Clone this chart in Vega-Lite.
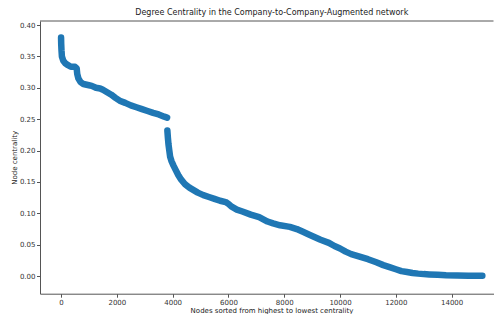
{
  "$schema": "https://vega.github.io/schema/vega-lite/v6.json",
  "width": 453.5,
  "height": 272.7,
  "autosize": {"type": "none"},
  "padding": {"left": 40, "top": 21, "right": 1.5, "bottom": 20.3},
  "background": "white",
  "title": {
    "text": "Degree Centrality in the Company-to-Company-Augmented network",
    "font": "DejaVu Sans",
    "fontSize": 8,
    "fontWeight": "normal",
    "color": "#222",
    "anchor": "middle",
    "dx": 5,
    "offset": 3.5
  },
  "config": {
    "view": {"stroke": null},
    "axis": {
      "labelFont": "DejaVu Sans",
      "titleFont": "DejaVu Sans",
      "labelFontSize": 7,
      "titleFontSize": 7,
      "titleFontWeight": "normal",
      "labelColor": "#333",
      "titleColor": "#222",
      "domainColor": "#555",
      "tickColor": "#555",
      "tickSize": 3.5,
      "grid": false
    }
  },
  "data": {
    "values": [
      {"node": 0, "centrality": 0.380, "segment": "A"},
      {"node": 5, "centrality": 0.370, "segment": "A"},
      {"node": 15, "centrality": 0.360, "segment": "A"},
      {"node": 30, "centrality": 0.350, "segment": "A"},
      {"node": 80, "centrality": 0.343, "segment": "A"},
      {"node": 150, "centrality": 0.339, "segment": "A"},
      {"node": 250, "centrality": 0.336, "segment": "A"},
      {"node": 350, "centrality": 0.3335, "segment": "A"},
      {"node": 500, "centrality": 0.3335, "segment": "A"},
      {"node": 560, "centrality": 0.331, "segment": "A"},
      {"node": 580, "centrality": 0.322, "segment": "A"},
      {"node": 620, "centrality": 0.315, "segment": "A"},
      {"node": 700, "centrality": 0.309, "segment": "A"},
      {"node": 800, "centrality": 0.306, "segment": "A"},
      {"node": 1000, "centrality": 0.304, "segment": "A"},
      {"node": 1100, "centrality": 0.303, "segment": "A"},
      {"node": 1250, "centrality": 0.300, "segment": "A"},
      {"node": 1400, "centrality": 0.299, "segment": "A"},
      {"node": 1500, "centrality": 0.297, "segment": "A"},
      {"node": 1650, "centrality": 0.293, "segment": "A"},
      {"node": 1800, "centrality": 0.289, "segment": "A"},
      {"node": 1950, "centrality": 0.284, "segment": "A"},
      {"node": 2100, "centrality": 0.2795, "segment": "A"},
      {"node": 2300, "centrality": 0.276, "segment": "A"},
      {"node": 2500, "centrality": 0.272, "segment": "A"},
      {"node": 2700, "centrality": 0.269, "segment": "A"},
      {"node": 2900, "centrality": 0.266, "segment": "A"},
      {"node": 3100, "centrality": 0.263, "segment": "A"},
      {"node": 3300, "centrality": 0.260, "segment": "A"},
      {"node": 3500, "centrality": 0.2575, "segment": "A"},
      {"node": 3700, "centrality": 0.254, "segment": "A"},
      {"node": 3800, "centrality": 0.2525, "segment": "A"},
      {"node": 3810, "centrality": 0.232, "segment": "B"},
      {"node": 3830, "centrality": 0.220, "segment": "B"},
      {"node": 3850, "centrality": 0.210, "segment": "B"},
      {"node": 3880, "centrality": 0.200, "segment": "B"},
      {"node": 3910, "centrality": 0.190, "segment": "B"},
      {"node": 3960, "centrality": 0.183, "segment": "B"},
      {"node": 4030, "centrality": 0.176, "segment": "B"},
      {"node": 4120, "centrality": 0.168, "segment": "B"},
      {"node": 4200, "centrality": 0.161, "segment": "B"},
      {"node": 4300, "centrality": 0.154, "segment": "B"},
      {"node": 4450, "centrality": 0.146, "segment": "B"},
      {"node": 4600, "centrality": 0.141, "segment": "B"},
      {"node": 4750, "centrality": 0.137, "segment": "B"},
      {"node": 4900, "centrality": 0.133, "segment": "B"},
      {"node": 5100, "centrality": 0.129, "segment": "B"},
      {"node": 5300, "centrality": 0.126, "segment": "B"},
      {"node": 5500, "centrality": 0.123, "segment": "B"},
      {"node": 5700, "centrality": 0.120, "segment": "B"},
      {"node": 5900, "centrality": 0.118, "segment": "B"},
      {"node": 6000, "centrality": 0.115, "segment": "B"},
      {"node": 6100, "centrality": 0.111, "segment": "B"},
      {"node": 6300, "centrality": 0.106, "segment": "B"},
      {"node": 6500, "centrality": 0.103, "segment": "B"},
      {"node": 6800, "centrality": 0.098, "segment": "B"},
      {"node": 7100, "centrality": 0.094, "segment": "B"},
      {"node": 7400, "centrality": 0.087, "segment": "B"},
      {"node": 7600, "centrality": 0.084, "segment": "B"},
      {"node": 7850, "centrality": 0.081, "segment": "B"},
      {"node": 8200, "centrality": 0.0785, "segment": "B"},
      {"node": 8450, "centrality": 0.075, "segment": "B"},
      {"node": 8650, "centrality": 0.071, "segment": "B"},
      {"node": 8900, "centrality": 0.066, "segment": "B"},
      {"node": 9100, "centrality": 0.062, "segment": "B"},
      {"node": 9300, "centrality": 0.058, "segment": "B"},
      {"node": 9600, "centrality": 0.053, "segment": "B"},
      {"node": 9800, "centrality": 0.048, "segment": "B"},
      {"node": 10000, "centrality": 0.044, "segment": "B"},
      {"node": 10200, "centrality": 0.039, "segment": "B"},
      {"node": 10400, "centrality": 0.035, "segment": "B"},
      {"node": 10700, "centrality": 0.031, "segment": "B"},
      {"node": 11000, "centrality": 0.027, "segment": "B"},
      {"node": 11300, "centrality": 0.022, "segment": "B"},
      {"node": 11550, "centrality": 0.0175, "segment": "B"},
      {"node": 11800, "centrality": 0.014, "segment": "B"},
      {"node": 12000, "centrality": 0.011, "segment": "B"},
      {"node": 12200, "centrality": 0.008, "segment": "B"},
      {"node": 12400, "centrality": 0.0065, "segment": "B"},
      {"node": 12600, "centrality": 0.005, "segment": "B"},
      {"node": 12800, "centrality": 0.004, "segment": "B"},
      {"node": 13000, "centrality": 0.0032, "segment": "B"},
      {"node": 13200, "centrality": 0.0027, "segment": "B"},
      {"node": 13500, "centrality": 0.002, "segment": "B"},
      {"node": 13800, "centrality": 0.0014, "segment": "B"},
      {"node": 14200, "centrality": 0.001, "segment": "B"},
      {"node": 14600, "centrality": 0.0006, "segment": "B"},
      {"node": 15100, "centrality": 0.0005, "segment": "B"}
    ]
  },
  "layer": [
    {
      "mark": {"type": "line", "color": "#1f77b4", "strokeWidth": 6.5, "strokeCap": "round", "strokeJoin": "round"},
      "encoding": {
        "x": {
          "field": "node",
          "type": "quantitative",
          "scale": {"domain": [-755, 15500], "nice": false, "zero": false},
          "axis": {"values": [0, 2000, 4000, 6000, 8000, 10000, 12000, 14000], "format": "d", "title": "Nodes sorted from highest to lowest centrality", "labelPadding": 1, "titlePadding": 1, "titleX": 231.5, "labelFlush": false}
        },
        "y": {
          "field": "centrality",
          "type": "quantitative",
          "scale": {"domain": [-0.028, 0.4064], "nice": false, "zero": false},
          "axis": {"values": [0, 0.05, 0.1, 0.15, 0.2, 0.25, 0.3, 0.35, 0.4], "format": ".2f", "title": "Node centrality", "labelPadding": 1.5, "titlePadding": 2}
        },
        "detail": {"field": "segment", "type": "nominal"}
      }
    },
    {
      "data": {"values": [{"spine": 0.4064}]},
      "mark": {"type": "rule", "color": "#555", "strokeWidth": 1},
      "encoding": {
        "y": {
          "field": "spine",
          "type": "quantitative",
          "axis": {"values": [0, 0.05, 0.1, 0.15, 0.2, 0.25, 0.3, 0.35, 0.4], "format": ".2f", "title": "Node centrality", "labelPadding": 1.5, "titlePadding": 2}
        }
      }
    }
  ]
}
